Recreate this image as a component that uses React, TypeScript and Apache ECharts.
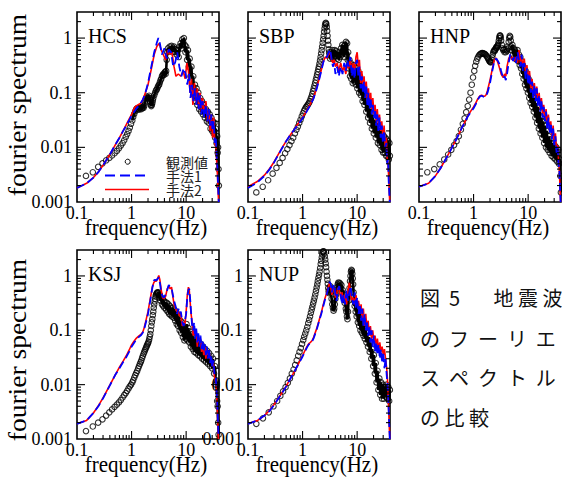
import React, { useEffect, useRef } from 'react';
import * as echarts from 'echarts';

// ---------- data (frequency [Hz], Fourier amplitude) ----------
const hcsObs = [[0.146,0.003],[0.195,0.0035],[0.244,0.0044],[0.293,0.0051],[0.342,0.0058],[0.391,0.0064],[0.439,0.0071],[0.488,0.0078],[0.537,0.0086],[0.586,0.0096],[0.635,0.0108],[0.684,0.012],[0.732,0.0135],[0.781,0.0155],[0.83,0.0175],[0.879,0.02],[0.928,0.023],[0.977,0.027],[1.03,0.031],[1.07,0.036],[1.12,0.041],[1.17,0.046],[1.22,0.05],[1.27,0.052],[1.32,0.05],[1.37,0.049],[1.42,0.052],[1.47,0.054],[1.51,0.05],[1.56,0.052],[1.61,0.055],[1.66,0.053],[1.71,0.058],[1.76,0.065],[1.81,0.072],[1.86,0.08],[1.9,0.085],[1.95,0.08],[2.0,0.078],[2.05,0.082],[2.1,0.088],[2.15,0.08],[2.2,0.068],[2.25,0.06],[2.3,0.057],[2.35,0.06],[2.4,0.065],[2.45,0.072],[2.5,0.08],[2.6,0.09],[2.7,0.1],[2.8,0.11],[2.9,0.115],[3.0,0.125],[3.1,0.135],[3.2,0.14],[3.3,0.155],[3.4,0.17],[3.5,0.18],[3.6,0.2],[3.7,0.21],[3.8,0.22],[3.9,0.21],[4.0,0.23],[4.1,0.24],[4.2,0.22],[4.3,0.25],[4.4,0.4],[4.5,0.55],[4.65,0.65],[4.8,0.58],[5.0,0.7],[5.2,0.6],[5.4,0.72],[5.6,0.55],[5.8,0.66],[6.0,0.7],[6.2,0.56],[6.4,0.62],[6.7,0.5],[7.0,0.6],[7.3,0.45],[7.6,0.7],[7.9,0.8],[8.2,0.65],[8.5,0.95],[8.8,0.85],[9.1,1.0],[9.4,0.75],[9.7,0.55],[10.0,0.7],[10.4,0.4],[10.8,0.6],[11.2,0.3],[11.6,0.42],[12.0,0.2],[12.5,0.3],[13.0,0.12],[13.5,0.2],[14.0,0.09],[14.5,0.14],[15.0,0.07],[15.5,0.12],[16.0,0.06],[16.7,0.1],[17.4,0.05],[18.1,0.08],[18.8,0.045],[19.5,0.07],[20.3,0.04],[21.1,0.06],[22,0.035],[23,0.05],[24,0.03],[25,0.045],[26,0.028],[27,0.04],[28,0.022],[29,0.035],[30,0.02],[31,0.03],[32,0.018],[33,0.028],[34,0.015],[35,0.022],[36,0.012],[37,0.016],[37.8,0.008],[38.5,0.01],[39.2,0.004],[39.8,0.002]];
const hcsM1 = [[0.1,0.0018],[0.15,0.0022],[0.2,0.0028],[0.25,0.0036],[0.3,0.0047],[0.4,0.0074],[0.5,0.011],[0.6,0.015],[0.7,0.02],[0.8,0.025],[1.0,0.038],[1.2,0.05],[1.4,0.06],[1.6,0.074],[1.8,0.1],[2.0,0.15],[2.3,0.3],[2.6,0.55],[2.9,0.82],[3.1,1.0],[3.3,0.8],[3.6,0.5],[4.0,0.65],[4.4,0.42],[4.8,0.62],[5.3,0.55],[5.8,0.3],[6.3,0.36],[6.9,0.55],[7.5,0.3],[8.2,0.2],[9,0.28],[9.8,0.22],[10.5,0.14],[11.3,0.22],[12,0.08],[12.8,0.14],[13.6,0.07],[14.5,0.12],[15.3,0.06],[16.2,0.1],[17,0.05],[18,0.09],[19,0.04],[20,0.07],[21.5,0.035],[23,0.06],[24.5,0.03],[26,0.05],[27.5,0.025],[29,0.04],[30.5,0.02],[32,0.03],[33.5,0.012],[35,0.015],[36.5,0.006],[37.5,0.004],[38.5,0.002],[39.5,0.001]];
const hcsM2 = [[0.1,0.0018],[0.15,0.0022],[0.2,0.0028],[0.25,0.0036],[0.3,0.0047],[0.4,0.0074],[0.5,0.011],[0.6,0.015],[0.7,0.02],[0.8,0.026],[1.0,0.04],[1.15,0.055],[1.3,0.06],[1.5,0.065],[1.7,0.085],[2.0,0.14],[2.3,0.27],[2.6,0.5],[2.9,0.7],[3.2,0.8],[3.5,0.6],[3.8,0.5],[4.2,0.4],[4.6,0.6],[5.0,0.5],[5.5,0.55],[6.0,0.3],[6.5,0.2],[7.2,0.22],[8,0.2],[8.8,0.25],[9.6,0.18],[10.3,0.35],[11,0.25],[11.8,0.1],[12.5,0.18],[13.3,0.06],[14.2,0.15],[15,0.07],[16,0.12],[17,0.05],[18,0.1],[19,0.045],[20,0.08],[21.5,0.04],[23,0.07],[24.5,0.03],[26,0.05],[27.5,0.02],[29,0.04],[30.5,0.015],[32,0.035],[33.5,0.012],[35,0.01],[36.5,0.005],[37.5,0.003],[38.5,0.0015],[39.5,0.001]];

const sbpObs = [[0.142,0.0015],[0.186,0.0019],[0.234,0.0025],[0.283,0.0033],[0.332,0.0042],[0.381,0.0052],[0.43,0.0064],[0.479,0.0078],[0.527,0.0093],[0.576,0.011],[0.625,0.013],[0.674,0.015],[0.723,0.018],[0.771,0.021],[0.82,0.024],[0.869,0.028],[0.918,0.032],[0.967,0.037],[1.016,0.042],[1.065,0.047],[1.113,0.051],[1.162,0.055],[1.211,0.058],[1.26,0.061],[1.309,0.065],[1.357,0.07],[1.406,0.077],[1.455,0.085],[1.504,0.095],[1.553,0.107],[1.602,0.12],[1.65,0.135],[1.7,0.152],[1.748,0.17],[1.797,0.19],[1.846,0.215],[1.895,0.24],[1.943,0.27],[1.992,0.3],[2.041,0.34],[2.09,0.39],[2.139,0.45],[2.188,0.52],[2.236,0.6],[2.285,0.7],[2.334,0.82],[2.383,0.95],[2.432,1.1],[2.48,1.3],[2.53,1.5],[2.578,1.7],[2.627,1.85],[2.676,1.9],[2.725,1.8],[2.773,1.6],[2.822,1.35],[2.871,1.1],[2.92,0.9],[2.969,0.75],[3.018,0.62],[3.067,0.55],[3.12,0.5],[3.2,0.42],[3.3,0.55],[3.4,0.45],[3.5,0.6],[3.6,0.42],[3.7,0.55],[3.8,0.45],[3.9,0.6],[4.0,0.47],[4.15,0.58],[4.3,0.42],[4.45,0.55],[4.6,0.4],[4.75,0.5],[4.9,0.45],[5.05,0.65],[5.2,0.5],[5.35,0.75],[5.5,0.55],[5.65,0.7],[5.8,0.45],[5.95,0.75],[6.1,0.55],[6.25,0.85],[6.4,0.5],[6.55,0.8],[6.7,0.4],[6.85,0.55],[7.0,0.28],[7.2,0.4],[7.4,0.2],[7.6,0.35],[7.8,0.18],[8.0,0.3],[8.3,0.15],[8.6,0.32],[8.9,0.16],[9.2,0.3],[9.5,0.14],[9.8,0.28],[10.1,0.12],[10.5,0.25],[10.9,0.1],[11.3,0.2],[11.7,0.09],[12.1,0.17],[12.6,0.07],[13.1,0.13],[13.6,0.06],[14.1,0.1],[14.7,0.045],[15.3,0.08],[15.9,0.035],[16.5,0.06],[17.2,0.028],[17.9,0.05],[18.6,0.022],[19.4,0.04],[20.2,0.018],[21,0.032],[22,0.015],[23,0.028],[24,0.012],[25,0.022],[26,0.011],[27,0.02],[28,0.009],[29,0.018],[30,0.008],[31,0.016],[32,0.008],[33,0.015],[34,0.007],[35,0.014],[36,0.007],[37,0.013],[38,0.006],[39,0.012],[39.8,0.007]];
const sbpM1 = [[0.1,0.0018],[0.15,0.0023],[0.2,0.003],[0.25,0.004],[0.3,0.0053],[0.4,0.0088],[0.5,0.013],[0.6,0.017],[0.7,0.021],[0.8,0.025],[1.0,0.034],[1.2,0.046],[1.4,0.06],[1.6,0.08],[1.8,0.115],[2.0,0.17],[2.2,0.25],[2.4,0.36],[2.6,0.45],[2.8,0.45],[3.0,0.55],[3.2,0.62],[3.4,0.42],[3.6,0.3],[3.8,0.35],[4.0,0.22],[4.3,0.3],[4.6,0.2],[5.0,0.3],[5.4,0.22],[5.8,0.35],[6.2,0.25],[6.6,0.4],[7.0,0.3],[7.5,0.45],[8.0,0.2],[8.5,0.3],[9.0,0.18],[9.5,0.35],[10.0,0.4],[10.5,0.2],[11.0,0.3],[11.6,0.12],[12.2,0.2],[12.8,0.1],[13.4,0.16],[14.0,0.08],[14.7,0.13],[15.4,0.06],[16.1,0.1],[16.9,0.05],[17.7,0.08],[18.5,0.04],[19.4,0.06],[20.3,0.035],[21.3,0.05],[22.3,0.025],[23.4,0.04],[24.5,0.02],[25.7,0.035],[27,0.015],[28.3,0.025],[29.7,0.012],[31.2,0.02],[32.7,0.01],[34.3,0.012],[35.5,0.005],[36.8,0.006],[37.8,0.0025],[38.8,0.0015],[39.6,0.001]];
const sbpM2 = [[0.1,0.0019],[0.15,0.0024],[0.2,0.0031],[0.25,0.0041],[0.3,0.0054],[0.4,0.009],[0.5,0.013],[0.6,0.017],[0.7,0.021],[0.8,0.026],[1.0,0.035],[1.2,0.048],[1.4,0.063],[1.6,0.083],[1.8,0.12],[2.0,0.175],[2.2,0.26],[2.4,0.37],[2.6,0.45],[2.8,0.43],[3.0,0.5],[3.2,0.55],[3.4,0.4],[3.6,0.35],[3.8,0.4],[4.0,0.3],[4.3,0.35],[4.6,0.25],[5.0,0.35],[5.4,0.25],[5.8,0.3],[6.2,0.22],[6.6,0.35],[7.0,0.28],[7.5,0.4],[8.0,0.25],[8.5,0.35],[9.0,0.22],[9.5,0.45],[10.0,0.55],[10.5,0.3],[11.0,0.4],[11.6,0.15],[12.2,0.25],[12.8,0.12],[13.4,0.2],[14.0,0.1],[14.7,0.16],[15.4,0.07],[16.1,0.12],[16.9,0.06],[17.7,0.1],[18.5,0.05],[19.4,0.08],[20.3,0.04],[21.3,0.06],[22.3,0.03],[23.4,0.05],[24.5,0.025],[25.7,0.04],[27,0.02],[28.3,0.03],[29.7,0.015],[31.2,0.025],[32.7,0.01],[34.3,0.015],[35.5,0.006],[36.8,0.005],[37.8,0.003],[38.8,0.0015],[39.6,0.001]];

const hnpObs = [[0.142,0.0035],[0.19,0.004],[0.24,0.0049],[0.29,0.006],[0.342,0.0074],[0.391,0.009],[0.439,0.011],[0.488,0.013],[0.537,0.016],[0.586,0.021],[0.635,0.027],[0.684,0.034],[0.732,0.044],[0.781,0.057],[0.83,0.075],[0.879,0.1],[0.928,0.14],[0.977,0.19],[1.03,0.25],[1.07,0.31],[1.12,0.37],[1.17,0.42],[1.22,0.46],[1.27,0.49],[1.32,0.51],[1.37,0.52],[1.42,0.53],[1.47,0.53],[1.51,0.52],[1.56,0.52],[1.61,0.51],[1.66,0.5],[1.71,0.48],[1.76,0.46],[1.81,0.44],[1.86,0.42],[1.9,0.4],[1.95,0.38],[2.0,0.37],[2.05,0.36],[2.1,0.37],[2.15,0.4],[2.2,0.44],[2.25,0.5],[2.3,0.55],[2.35,0.58],[2.4,0.6],[2.45,0.58],[2.5,0.62],[2.55,0.65],[2.6,0.68],[2.65,0.66],[2.7,0.7],[2.75,0.72],[2.8,0.75],[2.85,0.8],[2.9,0.9],[2.95,1.0],[3.0,1.08],[3.05,1.12],[3.1,1.1],[3.15,1.02],[3.2,0.9],[3.3,0.75],[3.4,0.65],[3.5,0.6],[3.6,0.62],[3.7,0.55],[3.8,0.6],[3.9,0.55],[4.0,0.62],[4.1,0.58],[4.2,0.7],[4.3,0.65],[4.4,0.85],[4.5,1.0],[4.6,1.1],[4.7,1.05],[4.8,0.9],[4.9,0.7],[5.0,0.6],[5.15,0.75],[5.3,0.5],[5.45,0.65],[5.6,0.45],[5.75,0.6],[5.9,0.42],[6.05,0.55],[6.2,0.4],[6.4,0.6],[6.6,0.38],[6.8,0.5],[7.0,0.32],[7.2,0.45],[7.4,0.28],[7.6,0.38],[7.8,0.22],[8.0,0.32],[8.25,0.18],[8.5,0.28],[8.75,0.14],[9.0,0.25],[9.3,0.12],[9.6,0.2],[9.9,0.1],[10.2,0.18],[10.5,0.08],[10.8,0.15],[11.1,0.065],[11.5,0.12],[11.9,0.055],[12.3,0.1],[12.7,0.045],[13.1,0.08],[13.6,0.035],[14.1,0.065],[14.6,0.028],[15.1,0.055],[15.7,0.022],[16.3,0.045],[16.9,0.018],[17.5,0.035],[18.2,0.015],[18.9,0.03],[19.6,0.012],[20.4,0.025],[21.2,0.01],[22,0.02],[22.9,0.009],[23.8,0.016],[24.8,0.008],[25.8,0.014],[26.9,0.007],[28,0.012],[29.2,0.0065],[30.4,0.011],[31.6,0.006],[32.9,0.01],[34.2,0.0055],[35.5,0.009],[36.8,0.005],[38,0.006],[39,0.003],[39.8,0.0015]];
const hnpM1 = [[0.1,0.0019],[0.15,0.0022],[0.2,0.003],[0.25,0.0042],[0.3,0.0058],[0.35,0.0076],[0.4,0.0098],[0.5,0.015],[0.6,0.022],[0.7,0.03],[0.8,0.038],[0.9,0.045],[1.0,0.052],[1.1,0.062],[1.2,0.075],[1.3,0.085],[1.4,0.088],[1.5,0.085],[1.6,0.083],[1.7,0.088],[1.8,0.1],[2.0,0.15],[2.2,0.25],[2.4,0.38],[2.6,0.42],[2.8,0.38],[3.0,0.33],[3.2,0.25],[3.5,0.18],[3.7,0.2],[3.9,0.17],[4.1,0.22],[4.4,0.35],[4.7,0.5],[5.0,0.45],[5.3,0.38],[5.6,0.45],[6.0,0.35],[6.4,0.55],[6.8,0.4],[7.2,0.3],[7.6,0.5],[8.0,0.25],[8.5,0.35],[9.0,0.18],[9.5,0.28],[10,0.14],[10.6,0.22],[11.2,0.1],[11.8,0.16],[12.4,0.08],[13.0,0.14],[13.7,0.07],[14.4,0.12],[15.1,0.055],[15.9,0.09],[16.7,0.045],[17.5,0.07],[18.4,0.035],[19.3,0.055],[20.3,0.03],[21.3,0.045],[22.4,0.022],[23.5,0.035],[24.7,0.018],[26,0.028],[27.3,0.014],[28.7,0.022],[30.1,0.011],[31.6,0.016],[33.2,0.008],[34.8,0.01],[36,0.005],[37.2,0.004],[38.3,0.002],[39.3,0.001]];
const hnpM2 = [[0.1,0.0019],[0.15,0.0022],[0.2,0.003],[0.25,0.0042],[0.3,0.0058],[0.35,0.0077],[0.4,0.0099],[0.5,0.015],[0.6,0.022],[0.7,0.03],[0.8,0.039],[0.9,0.047],[1.0,0.055],[1.1,0.065],[1.2,0.078],[1.3,0.087],[1.4,0.09],[1.5,0.087],[1.6,0.086],[1.7,0.092],[1.8,0.11],[2.0,0.17],[2.2,0.27],[2.4,0.4],[2.6,0.43],[2.8,0.35],[3.0,0.28],[3.2,0.22],[3.5,0.19],[3.7,0.22],[3.9,0.2],[4.1,0.3],[4.4,0.42],[4.7,0.48],[5.0,0.4],[5.3,0.45],[5.6,0.38],[6.0,0.45],[6.4,0.35],[6.8,0.6],[7.2,0.35],[7.6,0.45],[8.0,0.3],[8.5,0.42],[9.0,0.22],[9.5,0.32],[10,0.16],[10.6,0.25],[11.2,0.12],[11.8,0.18],[12.4,0.1],[13.0,0.15],[13.7,0.08],[14.4,0.13],[15.1,0.06],[15.9,0.1],[16.7,0.05],[17.5,0.08],[18.4,0.04],[19.3,0.06],[20.3,0.032],[21.3,0.05],[22.4,0.025],[23.5,0.04],[24.7,0.02],[26,0.03],[27.3,0.015],[28.7,0.025],[30.1,0.012],[31.6,0.018],[33.2,0.009],[34.8,0.011],[36,0.006],[37.2,0.004],[38.3,0.002],[39.3,0.001]];

const ksjObs = [[0.146,0.0014],[0.195,0.0017],[0.244,0.002],[0.293,0.0023],[0.342,0.0027],[0.391,0.0031],[0.439,0.0035],[0.488,0.0039],[0.537,0.0043],[0.586,0.0047],[0.635,0.0052],[0.684,0.0058],[0.732,0.0064],[0.781,0.007],[0.83,0.0077],[0.879,0.0085],[0.928,0.0093],[0.977,0.01],[1.03,0.011],[1.07,0.012],[1.12,0.0135],[1.17,0.015],[1.22,0.0165],[1.27,0.018],[1.32,0.02],[1.37,0.022],[1.42,0.024],[1.47,0.026],[1.51,0.028],[1.56,0.031],[1.61,0.034],[1.66,0.037],[1.71,0.04],[1.76,0.043],[1.81,0.046],[1.86,0.049],[1.9,0.052],[1.95,0.055],[2.0,0.058],[2.05,0.062],[2.1,0.068],[2.15,0.076],[2.2,0.085],[2.25,0.1],[2.3,0.12],[2.35,0.14],[2.4,0.16],[2.45,0.19],[2.5,0.22],[2.55,0.26],[2.6,0.3],[2.65,0.34],[2.7,0.38],[2.75,0.42],[2.8,0.45],[2.85,0.47],[2.9,0.48],[2.95,0.5],[3.0,0.49],[3.05,0.48],[3.1,0.5],[3.15,0.45],[3.2,0.4],[3.3,0.45],[3.4,0.35],[3.5,0.4],[3.6,0.3],[3.7,0.38],[3.8,0.28],[3.9,0.35],[4.0,0.26],[4.15,0.33],[4.3,0.24],[4.45,0.32],[4.6,0.22],[4.75,0.3],[4.9,0.2],[5.05,0.28],[5.2,0.19],[5.35,0.26],[5.5,0.18],[5.7,0.26],[5.9,0.17],[6.1,0.24],[6.3,0.15],[6.5,0.22],[6.7,0.13],[6.9,0.2],[7.1,0.12],[7.35,0.18],[7.6,0.1],[7.85,0.15],[8.1,0.09],[8.4,0.14],[8.7,0.075],[9.0,0.12],[9.3,0.065],[9.6,0.11],[9.9,0.07],[10.2,0.13],[10.6,0.065],[11,0.11],[11.4,0.06],[11.8,0.095],[12.2,0.05],[12.7,0.085],[13.2,0.045],[13.7,0.075],[14.2,0.04],[14.8,0.07],[15.4,0.038],[16,0.065],[16.7,0.035],[17.4,0.06],[18.1,0.033],[18.9,0.055],[19.7,0.03],[20.5,0.05],[21.4,0.028],[22.3,0.045],[23.3,0.026],[24.3,0.042],[25.3,0.024],[26.4,0.038],[27.5,0.022],[28.7,0.034],[29.9,0.02],[31.2,0.03],[32.5,0.016],[33.8,0.022],[35,0.01],[36,0.012],[37,0.005],[37.8,0.004],[38.6,0.002],[39.3,0.0012]];
const ksjM1 = [[0.1,0.0019],[0.15,0.0022],[0.2,0.003],[0.25,0.0041],[0.3,0.0056],[0.4,0.0097],[0.5,0.015],[0.6,0.02],[0.7,0.026],[0.8,0.032],[0.9,0.04],[1.0,0.05],[1.1,0.058],[1.2,0.066],[1.35,0.075],[1.5,0.082],[1.6,0.09],[1.7,0.105],[1.8,0.13],[2.0,0.2],[2.2,0.35],[2.4,0.6],[2.55,0.82],[2.7,0.85],[2.85,0.83],[3.0,0.88],[3.15,0.95],[3.3,0.75],[3.5,0.5],[3.7,0.42],[3.9,0.4],[4.2,0.45],[4.5,0.55],[4.8,0.68],[5.1,0.62],[5.4,0.6],[5.7,0.45],[6.0,0.35],[6.4,0.28],[6.8,0.2],[7.2,0.25],[7.6,0.2],[8.0,0.22],[8.5,0.14],[9.0,0.12],[9.5,0.15],[10.0,0.2],[10.5,0.4],[11.0,0.55],[11.4,0.58],[11.8,0.4],[12.3,0.22],[12.8,0.13],[13.4,0.1],[14.0,0.14],[14.6,0.07],[15.3,0.11],[16,0.06],[16.7,0.09],[17.5,0.05],[18.3,0.08],[19.2,0.045],[20.1,0.065],[21,0.04],[22,0.055],[23,0.035],[24,0.05],[25.1,0.03],[26.3,0.045],[27.5,0.025],[28.8,0.035],[30.1,0.02],[31.5,0.028],[33,0.016],[34.5,0.015],[35.8,0.009],[37,0.005],[38,0.0025],[39,0.0012]];
const ksjM2 = [[0.1,0.0019],[0.15,0.0022],[0.2,0.003],[0.25,0.0042],[0.3,0.0057],[0.4,0.0098],[0.5,0.015],[0.6,0.021],[0.7,0.027],[0.8,0.034],[0.9,0.043],[1.0,0.054],[1.1,0.062],[1.2,0.07],[1.35,0.078],[1.5,0.085],[1.6,0.092],[1.7,0.11],[1.8,0.14],[2.0,0.22],[2.2,0.38],[2.4,0.62],[2.55,0.75],[2.7,0.82],[2.85,0.8],[3.0,0.9],[3.15,1.02],[3.3,0.85],[3.5,0.55],[3.7,0.4],[3.9,0.38],[4.2,0.42],[4.5,0.58],[4.8,0.65],[5.1,0.58],[5.4,0.62],[5.7,0.42],[6.0,0.3],[6.4,0.25],[6.8,0.22],[7.2,0.22],[7.6,0.18],[8.0,0.2],[8.5,0.12],[9.0,0.14],[9.5,0.13],[10.0,0.22],[10.5,0.45],[11.0,0.62],[11.4,0.55],[11.8,0.35],[12.3,0.2],[12.8,0.15],[13.4,0.08],[14.0,0.12],[14.6,0.08],[15.3,0.1],[16,0.05],[16.7,0.08],[17.5,0.06],[18.3,0.07],[19.2,0.04],[20.1,0.06],[21,0.035],[22,0.05],[23,0.03],[24,0.045],[25.1,0.035],[26.3,0.04],[27.5,0.03],[28.8,0.03],[30.1,0.022],[31.5,0.025],[33,0.014],[34.5,0.012],[35.8,0.008],[37,0.004],[38,0.002],[39,0.001]];

const nupObs = [[0.142,0.0019],[0.188,0.0024],[0.24,0.0031],[0.293,0.004],[0.342,0.005],[0.391,0.0062],[0.439,0.0075],[0.488,0.009],[0.537,0.0108],[0.586,0.013],[0.635,0.016],[0.684,0.019],[0.732,0.023],[0.781,0.028],[0.83,0.034],[0.879,0.04],[0.928,0.047],[0.977,0.056],[1.03,0.066],[1.07,0.076],[1.12,0.087],[1.17,0.1],[1.22,0.115],[1.27,0.135],[1.32,0.155],[1.37,0.18],[1.42,0.21],[1.47,0.24],[1.51,0.27],[1.56,0.31],[1.61,0.35],[1.66,0.4],[1.71,0.46],[1.76,0.53],[1.81,0.61],[1.86,0.7],[1.9,0.8],[1.95,0.92],[2.0,1.05],[2.05,1.2],[2.1,1.4],[2.15,1.65],[2.2,1.9],[2.25,2.2],[2.3,2.5],[2.35,2.75],[2.4,2.85],[2.45,2.8],[2.5,2.6],[2.55,2.3],[2.6,2.0],[2.65,1.7],[2.7,1.45],[2.75,1.2],[2.8,1.0],[2.85,0.85],[2.9,0.72],[2.95,0.6],[3.0,0.52],[3.05,0.48],[3.1,0.5],[3.15,0.58],[3.2,0.65],[3.25,0.6],[3.3,0.5],[3.4,0.38],[3.5,0.3],[3.6,0.26],[3.7,0.23],[3.8,0.25],[3.9,0.3],[4.0,0.38],[4.1,0.45],[4.2,0.55],[4.3,0.62],[4.4,0.7],[4.5,0.75],[4.6,0.6],[4.7,0.75],[4.8,0.65],[4.9,0.72],[5.0,0.6],[5.15,0.68],[5.3,0.5],[5.45,0.55],[5.6,0.4],[5.75,0.45],[5.9,0.32],[6.05,0.35],[6.2,0.25],[6.35,0.22],[6.5,0.18],[6.65,0.16],[6.8,0.22],[6.95,0.35],[7.1,0.45],[7.25,0.6],[7.4,0.8],[7.55,1.0],[7.7,1.2],[7.85,1.3],[8.0,1.25],[8.15,1.1],[8.3,0.9],[8.45,0.7],[8.6,0.5],[8.8,0.35],[9.0,0.28],[9.2,0.32],[9.4,0.22],[9.6,0.3],[9.8,0.18],[10.0,0.25],[10.3,0.14],[10.6,0.22],[10.9,0.12],[11.2,0.2],[11.5,0.1],[11.8,0.18],[12.2,0.09],[12.6,0.16],[13.0,0.08],[13.4,0.13],[13.8,0.07],[14.3,0.11],[14.8,0.06],[15.3,0.09],[15.8,0.05],[16.4,0.075],[17,0.04],[17.6,0.06],[18.2,0.03],[18.9,0.045],[19.6,0.022],[20.3,0.035],[21.1,0.016],[21.9,0.025],[22.7,0.011],[23.6,0.018],[24.5,0.008],[25.5,0.013],[26.5,0.0065],[27.5,0.011],[28.6,0.0055],[29.7,0.01],[30.9,0.0055],[32.1,0.009],[33.4,0.006],[34.7,0.01],[36,0.0055],[37.3,0.009],[38.6,0.005],[39.8,0.008]];
const nupM1 = [[0.1,0.0019],[0.15,0.0022],[0.2,0.0027],[0.25,0.0033],[0.3,0.0042],[0.4,0.0065],[0.5,0.0092],[0.6,0.013],[0.7,0.017],[0.8,0.022],[0.9,0.027],[1.0,0.033],[1.1,0.04],[1.2,0.048],[1.3,0.055],[1.4,0.058],[1.5,0.063],[1.6,0.072],[1.8,0.1],[2.0,0.145],[2.2,0.2],[2.4,0.28],[2.6,0.38],[2.8,0.48],[3.0,0.62],[3.15,0.78],[3.3,0.7],[3.45,0.5],[3.6,0.62],[3.8,0.7],[4.0,0.45],[4.2,0.35],[4.4,0.55],[4.7,0.65],[5.0,0.45],[5.3,0.3],[5.6,0.45],[6.0,0.3],[6.4,0.55],[6.8,0.35],[7.2,0.5],[7.6,0.65],[8.0,0.4],[8.5,0.3],[9.0,0.5],[9.5,0.25],[10,0.4],[10.6,0.2],[11.2,0.3],[11.8,0.15],[12.4,0.25],[13,0.12],[13.7,0.2],[14.4,0.1],[15.1,0.15],[15.9,0.08],[16.7,0.12],[17.5,0.06],[18.4,0.1],[19.3,0.05],[20.3,0.08],[21.3,0.04],[22.4,0.06],[23.5,0.035],[24.7,0.055],[26,0.03],[27.3,0.045],[28.7,0.025],[30.1,0.04],[31.6,0.02],[33.2,0.03],[34.8,0.015],[36,0.01],[37,0.006],[38,0.003],[39,0.0015],[39.7,0.001]];
const nupM2 = [[0.1,0.0019],[0.15,0.0022],[0.2,0.0027],[0.25,0.0034],[0.3,0.0043],[0.4,0.0066],[0.5,0.0094],[0.6,0.013],[0.7,0.017],[0.8,0.022],[0.9,0.028],[1.0,0.034],[1.1,0.042],[1.2,0.05],[1.3,0.057],[1.4,0.06],[1.5,0.065],[1.6,0.075],[1.8,0.105],[2.0,0.15],[2.2,0.21],[2.4,0.3],[2.6,0.4],[2.8,0.5],[3.0,0.65],[3.15,0.75],[3.3,0.6],[3.45,0.45],[3.6,0.55],[3.8,0.6],[4.0,0.4],[4.2,0.45],[4.4,0.6],[4.7,0.55],[5.0,0.4],[5.3,0.5],[5.6,0.35],[6.0,0.45],[6.4,0.3],[6.8,0.55],[7.2,0.75],[7.6,0.45],[8.0,0.35],[8.5,0.4],[9.0,0.3],[9.5,0.45],[10,0.3],[10.6,0.35],[11.2,0.2],[11.8,0.3],[12.4,0.15],[13,0.25],[13.7,0.12],[14.4,0.2],[15.1,0.1],[15.9,0.15],[16.7,0.08],[17.5,0.12],[18.4,0.07],[19.3,0.1],[20.3,0.06],[21.3,0.08],[22.4,0.05],[23.5,0.07],[24.7,0.045],[26,0.06],[27.3,0.04],[28.7,0.05],[30.1,0.035],[31.6,0.045],[33.2,0.03],[34.8,0.02],[36,0.012],[37,0.006],[38,0.003],[39,0.0015],[39.7,0.001]];

const stationNames = ['HCS', 'SBP', 'HNP', 'KSJ', 'NUP'];
const legendNames = ['観測値', '手法1', '手法2'];
const xTickLabels = ['0.1', '1', '10'];
const yTickLabels = ['0.001', '0.01', '0.1', '1'];
const xTitle = 'frequency(Hz)';
const yTitle = 'fourier spectrum';
const captionLines = [
  '図\u00a0\u00a05\u3000\u00a0\u00a0\u00a0地\u00a0震\u00a0波',
  'の\u00a0\u00a0フ\u00a0\u00a0ー\u00a0\u00a0リ\u00a0\u00a0エ',
  'ス\u00a0\u00a0ペ\u00a0\u00a0ク\u00a0\u00a0ト\u00a0\u00a0ル',
  'の\u00a0比\u00a0較',
];

// ---------- layout ----------
const X_MIN = 0.1, X_MAX = 40, Y_MIN = 0.001, Y_MAX = 3;
const SERIF = '"Liberation Serif", "Times New Roman", serif';
const JP = '"Noto Sans CJK JP", sans-serif';

const panels = [
  { obs: hcsObs, m1: hcsM1, m2: hcsM2, dense: 1.0, left: 77, top: 12, h: 190, yLab: true },
  { obs: sbpObs, m1: sbpM1, m2: sbpM2, dense: 3.1, left: 248, top: 12, h: 190, yLab: false },
  { obs: hnpObs, m1: hnpM1, m2: hnpM2, dense: 5.0, left: 419, top: 12, h: 190, yLab: false },
  { obs: ksjObs, m1: ksjM1, m2: ksjM2, dense: 3.1, left: 77, top: 250, h: 189, yLab: true },
  { obs: nupObs, m1: nupM1, m2: nupM2, dense: 3.0, left: 248, top: 250, h: 189, yLab: true },
];
const PW = 142;

function labelFor(list: string[], minExp: number) {
  return (v: number) => {
    const e = Math.log10(v);
    const r = Math.round(e);
    if (Math.abs(e - r) > 1e-6) return '';
    return list[r - minExp] ?? '';
  };
}

// tick marks (decoration): majors at decades, minors at 2..9 × decade
function buildTicks() {
  const out: number[][] = [];
  for (let d = -1; d <= 1; d++) {
    const base = Math.pow(10, d);
    if (d > -1) out.push([base, 1, 0, 1]);
    for (let m = 2; m <= 9; m++) { const v = m * base; if (v < X_MAX - 1e-9) out.push([v, 1, 0, 0]); }
  }
  for (let d = -3; d <= 0; d++) {
    const base = Math.pow(10, d);
    if (d > -3) out.push([1, base, 1, 1]);
    for (let m = 2; m <= 9; m++) { const v = m * base; if (v < Y_MAX - 1e-9) out.push([1, v, 1, 0]); }
  }
  return out;
}
const tickData = buildTicks();

function renderTick(params: any, api: any) {
  const kind = api.value(2);
  const major = api.value(3);
  const len = major ? 8 : 4;
  const st = { stroke: '#000', lineWidth: 1.1 };
  if (kind === 0) {
    const v = api.value(0);
    const b = api.coord([v, Y_MIN]);
    const t = api.coord([v, Y_MAX]);
    return { type: 'group', children: [
      { type: 'line', shape: { x1: b[0], y1: b[1], x2: b[0], y2: b[1] - len }, style: st },
      { type: 'line', shape: { x1: t[0], y1: t[1], x2: t[0], y2: t[1] + len }, style: st },
    ] };
  }
  const v = api.value(1);
  const l = api.coord([X_MIN, v]);
  const r = api.coord([X_MAX, v]);
  return { type: 'group', children: [
    { type: 'line', shape: { x1: l[0], y1: l[1], x2: l[0] + len, y2: l[1] }, style: st },
    { type: 'line', shape: { x1: r[0], y1: r[1], x2: r[0] - len, y2: r[1] }, style: st },
  ] };
}

function buildOption() {
  const grid: any[] = [], xAxis: any[] = [], yAxis: any[] = [], series: any[] = [], graphic: any[] = [];
  panels.forEach((p, i) => {
    grid.push({ left: p.left, top: p.top, width: PW, height: p.h, show: true, borderColor: '#000', borderWidth: 1.6, backgroundColor: 'transparent' });
    xAxis.push({
      type: 'log', logBase: 10, gridIndex: i, min: X_MIN, max: X_MAX,
      axisLine: { show: false }, axisTick: { show: false }, splitLine: { show: false },
      axisLabel: { formatter: labelFor(xTickLabels, -1), fontFamily: SERIF, fontSize: 18, color: '#000', margin: 2, showMaxLabel: false },
    });
    yAxis.push({
      type: 'log', logBase: 10, gridIndex: i, min: Y_MIN, max: Y_MAX,
      axisLine: { show: false }, axisTick: { show: false }, splitLine: { show: false },
      axisLabel: { show: p.yLab, formatter: labelFor(yTickLabels, -3), fontFamily: SERIF, fontSize: 18, color: '#000', margin: 5, showMaxLabel: false },
    });
    series.push({
      type: 'line', xAxisIndex: i, yAxisIndex: i, name: legendNames[0],
      data: p.obs.filter((d) => d[0] >= p.dense), symbol: 'none', showSymbol: false,
      lineStyle: { color: '#000', width: 2.6 }, z: 2, silent: true,
    });
    series.push({
      type: 'scatter', xAxisIndex: i, yAxisIndex: i, name: legendNames[0],
      data: p.obs, symbol: 'circle', symbolSize: 5.5,
      itemStyle: { color: 'rgba(0,0,0,0)', borderColor: '#000', borderWidth: 1.1 }, z: 2, silent: true,
    });
    series.push({
      type: 'line', xAxisIndex: i, yAxisIndex: i, name: legendNames[2],
      data: p.m2, symbol: 'none', showSymbol: false,
      lineStyle: { color: '#ff0000', width: 1.6 }, z: 3, silent: true,
    });
    series.push({
      type: 'line', xAxisIndex: i, yAxisIndex: i, name: legendNames[1],
      data: p.m1, symbol: 'none', showSymbol: false,
      lineStyle: { color: '#0000ff', width: 1.8, type: [8, 4] }, z: 4, silent: true,
    });
    series.push({
      type: 'custom', xAxisIndex: i, yAxisIndex: i, data: tickData, renderItem: renderTick, z: 6, silent: true, clip: false,
    });
    // panel title
    graphic.push({ type: 'text', x: p.left + 11, y: p.top + 24, z: 10,
      style: { text: stationNames[i], fontFamily: SERIF, fontSize: 20, fill: '#000', align: 'left', verticalAlign: 'middle', textAlign: 'left', textVerticalAlign: 'middle' } });
    // x title
    graphic.push({ type: 'text', x: p.left + PW / 2 - 2, y: p.top + p.h + 25, scaleY: 1.1, z: 10,
      style: { text: xTitle, fontFamily: SERIF, fontSize: 21, fill: '#000', align: 'center', verticalAlign: 'middle', textAlign: 'center', textVerticalAlign: 'middle' } });
  });
  // y titles
  [105, 350].forEach((cy) => {
    graphic.push({ type: 'text', x: 18, y: cy, rotation: Math.PI / 2, scaleX: 1.1, z: 10,
      style: { text: yTitle, fontFamily: SERIF, fontSize: 25, fill: '#000', align: 'center', verticalAlign: 'middle', textAlign: 'center', textVerticalAlign: 'middle' } });
  });
  // legend inside HCS panel
  graphic.push({ type: 'circle', shape: { cx: 127.7, cy: 161.7, r: 2.5 }, style: { fill: 'none', stroke: '#000', lineWidth: 1 }, z: 10 });
  graphic.push({ type: 'line', shape: { x1: 105, y1: 175.5, x2: 146, y2: 175.5 }, style: { stroke: '#0000ff', lineWidth: 2, lineDash: [10, 5] }, z: 10 });
  graphic.push({ type: 'line', shape: { x1: 105, y1: 189.5, x2: 149, y2: 189.5 }, style: { stroke: '#ff0000', lineWidth: 1.6 }, z: 10 });
  [161.7, 175.5, 189.5].forEach((cy, k) => {
    graphic.push({ type: 'text', x: 166, y: cy, z: 10,
      style: { text: legendNames[k], fontFamily: JP, fontSize: 14, lineHeight: 14, fill: '#222', align: 'left', verticalAlign: 'middle', textAlign: 'left', textVerticalAlign: 'middle' } });
  });
  // caption on the right
  [297, 338, 377, 417].forEach((cy, k) => {
    graphic.push({ type: 'text', x: 420, y: cy, z: 10,
      style: { text: captionLines[k], fontFamily: JP, fontSize: 20, fill: '#111', align: 'left', verticalAlign: 'middle', textAlign: 'left', textVerticalAlign: 'middle' } });
  });

  return { animation: false, backgroundColor: '#fff', grid, xAxis, yAxis, series, graphic };
}

export default function App() {
  const ref = useRef<HTMLDivElement>(null);
  useEffect(() => {
    if (!ref.current) return;
    const chart = echarts.init(ref.current, null, { renderer: 'svg' });
    chart.setOption(buildOption() as any);
    return () => chart.dispose();
  }, []);
  return <div ref={ref} style={{ position: 'fixed', left: 0, top: 0, width: 562, height: 478, background: '#fff' }} />;
}
